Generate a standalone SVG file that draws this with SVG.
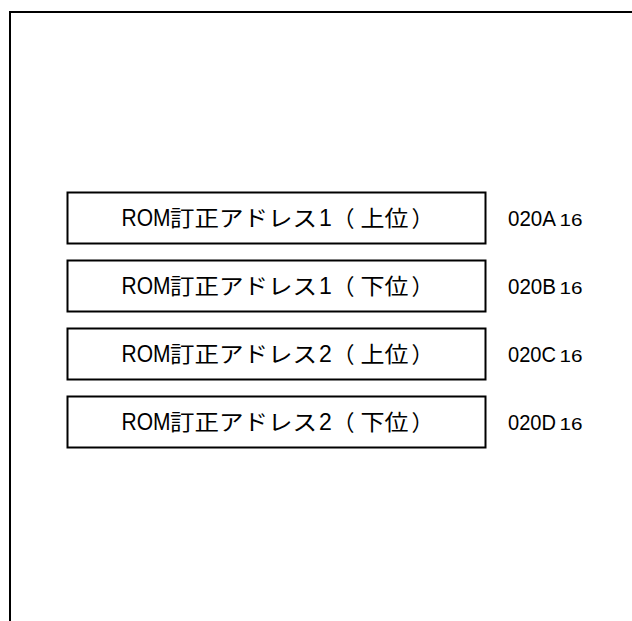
<svg xmlns="http://www.w3.org/2000/svg" width="632" height="621" viewBox="0 0 632 621">
<style>
.frame{fill:none;stroke:#000;stroke-width:2}
.box{fill:#fff;stroke:#000;stroke-width:2}
.lbl{font-family:"Liberation Sans","Noto Sans CJK JP",sans-serif;font-size:23px;fill:#000}
.adr{font-size:22px}
.cjk{font-family:"Noto Sans CJK JP","Liberation Sans",sans-serif;font-size:22px}
.sub{font-size:16px}
</style>
<rect width="632" height="621" fill="#fff"/>
<path class="frame" d="M10,640 V12 H650"/>
<g id="n1">
<rect class="box" x="67.5" y="192.5" width="418" height="51"/>
<text class="lbl" y="226"><tspan x="121.5" textLength="49" lengthAdjust="spacingAndGlyphs">ROM</tspan><tspan class="cjk" x="170" textLength="147" lengthAdjust="spacingAndGlyphs">訂正アドレス</tspan><tspan x="319">1</tspan><tspan class="cjk" x="332.5">（</tspan><tspan class="cjk" x="360.5" textLength="48" lengthAdjust="spacingAndGlyphs">上位</tspan><tspan class="cjk" x="411.5">）</tspan></text>
<text class="lbl" y="226"><tspan class="adr" x="508" textLength="48" lengthAdjust="spacingAndGlyphs">020A</tspan><tspan class="sub" x="559.5" textLength="23" lengthAdjust="spacingAndGlyphs">16</tspan></text>
</g>
<g id="n2">
<rect class="box" x="67.5" y="260.5" width="418" height="51"/>
<text class="lbl" y="294"><tspan x="121.5" textLength="49" lengthAdjust="spacingAndGlyphs">ROM</tspan><tspan class="cjk" x="170" textLength="147" lengthAdjust="spacingAndGlyphs">訂正アドレス</tspan><tspan x="319">1</tspan><tspan class="cjk" x="332.5">（</tspan><tspan class="cjk" x="360.5" textLength="48" lengthAdjust="spacingAndGlyphs">下位</tspan><tspan class="cjk" x="411.5">）</tspan></text>
<text class="lbl" y="294"><tspan class="adr" x="508" textLength="48" lengthAdjust="spacingAndGlyphs">020B</tspan><tspan class="sub" x="559.5" textLength="23" lengthAdjust="spacingAndGlyphs">16</tspan></text>
</g>
<g id="n3">
<rect class="box" x="67.5" y="328.5" width="418" height="51"/>
<text class="lbl" y="362"><tspan x="121.5" textLength="49" lengthAdjust="spacingAndGlyphs">ROM</tspan><tspan class="cjk" x="170" textLength="147" lengthAdjust="spacingAndGlyphs">訂正アドレス</tspan><tspan x="319">2</tspan><tspan class="cjk" x="332.5">（</tspan><tspan class="cjk" x="360.5" textLength="48" lengthAdjust="spacingAndGlyphs">上位</tspan><tspan class="cjk" x="411.5">）</tspan></text>
<text class="lbl" y="362"><tspan class="adr" x="508" textLength="48" lengthAdjust="spacingAndGlyphs">020C</tspan><tspan class="sub" x="559.5" textLength="23" lengthAdjust="spacingAndGlyphs">16</tspan></text>
</g>
<g id="n4">
<rect class="box" x="67.5" y="396.5" width="418" height="51"/>
<text class="lbl" y="430"><tspan x="121.5" textLength="49" lengthAdjust="spacingAndGlyphs">ROM</tspan><tspan class="cjk" x="170" textLength="147" lengthAdjust="spacingAndGlyphs">訂正アドレス</tspan><tspan x="319">2</tspan><tspan class="cjk" x="332.5">（</tspan><tspan class="cjk" x="360.5" textLength="48" lengthAdjust="spacingAndGlyphs">下位</tspan><tspan class="cjk" x="411.5">）</tspan></text>
<text class="lbl" y="430"><tspan class="adr" x="508" textLength="48" lengthAdjust="spacingAndGlyphs">020D</tspan><tspan class="sub" x="559.5" textLength="23" lengthAdjust="spacingAndGlyphs">16</tspan></text>
</g>
<g id="connectors"/>
</svg>
